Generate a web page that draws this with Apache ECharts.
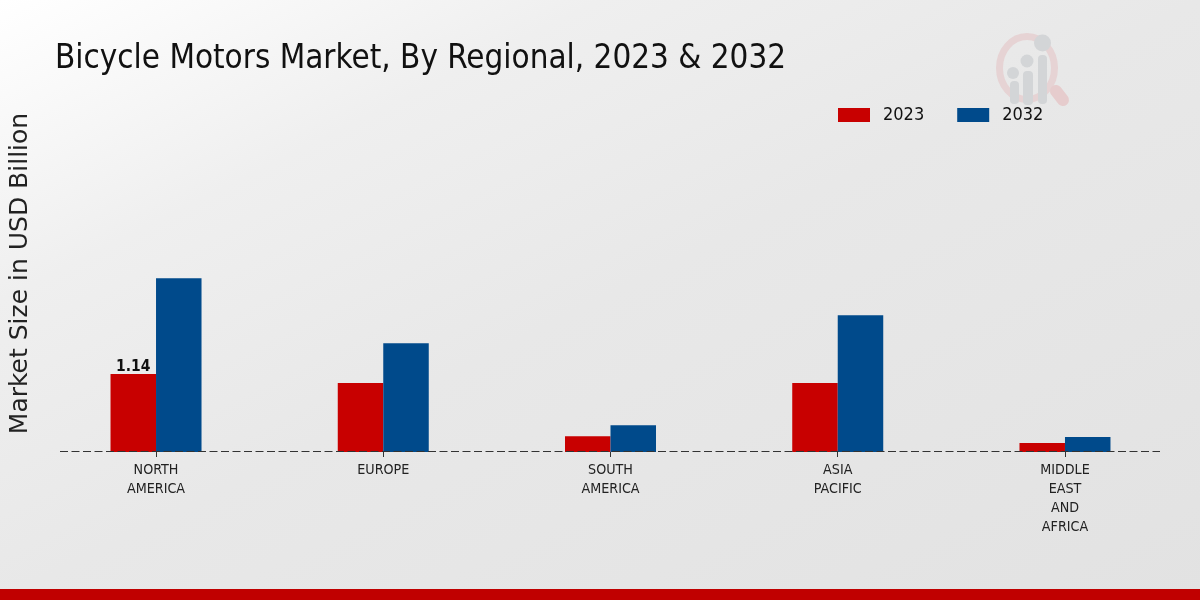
<!DOCTYPE html>
<html><head><meta charset="utf-8">
<style>html,body{margin:0;padding:0;background:#e6e6e6}#c{width:1200px;height:600px}</style>
<script src="https://cdn.jsdelivr.net/npm/echarts@6/dist/echarts.min.js"></script>
</head><body><div id="c"></div>
<script>
const titleText = 'Bicycle Motors Market, By Regional, 2023 & 2032';
const yAxisTitle = 'Market Size in USD Billion';
const categories = ['NORTH\nAMERICA','EUROPE','SOUTH\nAMERICA','ASIA\nPACIFIC','MIDDLE\nEAST\nAND\nAFRICA'];
const values2023 = [1.14,1.01,0.23,1.01,0.13];
const values2032 = [2.54,1.59,0.39,2.00,0.22];
const condensed = '"DejaVu Sans Condensed","DejaVu Sans"';
const chart = echarts.init(document.getElementById('c'),null,{renderer:'canvas'});
const ringC='#e6d3d4', barC='#d3d5d7';
chart.setOption({
  animation:false,
  backgroundColor:{type:'linear',global:true,x:0,y:0,x2:480,y2:960,colorStops:[{offset:0,color:'#ffffff'},{offset:0.08,color:'#fafafa'},{offset:0.25,color:'#efefef'},{offset:0.5,color:'#e8e8e8'},{offset:1,color:'#e2e2e2'}]},
  title:{text:titleText,left:50,top:38,textStyle:{fontFamily:condensed,fontSize:32.9,fontWeight:'normal',color:'#111'}},
  legend:{left:833,top:101,itemWidth:32,itemHeight:14,itemGap:33,icon:'rect',
    textStyle:{fontFamily:condensed,fontSize:18,color:'#111',padding:[0,0,0,8]},data:['2023','2032']},
  grid:{left:42.4,width:1136.2,top:95,bottom:148,containLabel:false,outerBoundsMode:'none'},
  xAxis:{type:'category',data:categories,
    axisLine:{show:false},
    axisTick:{show:true,alignWithLabel:true,length:5,lineStyle:{color:'#333'}},
    axisLabel:{fontFamily:condensed,fontSize:14.2,color:'#222',lineHeight:19,margin:9,interval:0}},
  yAxis:{type:'value',min:0,max:5.219,axisLabel:{show:false},axisTick:{show:false},axisLine:{show:false},splitLine:{show:false},
    name:yAxisTitle,nameLocation:'middle',nameGap:9,nameRotate:90,
    nameTextStyle:{fontFamily:'"DejaVu Sans"',fontSize:25,color:'#222'}},
  series:[
    {name:'2023',type:'bar',data:values2023.map((v,i)=>i===0?{value:v,label:{show:true}}:v),barWidth:45.5,barGap:'0%',
      itemStyle:{color:'#c80000'},
      label:{show:false,position:'top',distance:-1,formatter:'{c}',fontFamily:condensed,fontWeight:'bold',fontSize:15.5,color:'#111'}},
    {name:'2032',type:'bar',data:values2032,barWidth:45.5,itemStyle:{color:'#004a8b'}}
  ],
  graphic:[
    {type:'line',silent:true,z:5,shape:{x1:60,y1:451.5,x2:1160,y2:451.5},style:{stroke:'#333',lineWidth:1,lineDash:[8,3.5]}},
    {type:'rect',silent:true,z:5,shape:{x:0,y:589,width:1200,height:11},style:{fill:'#c00000'}},
    {type:'ellipse',silent:true,z:0,shape:{cx:1027,cy:68,rx:27.5,ry:31.5},style:{stroke:ringC,fill:null,lineWidth:7}},
    {type:'line',silent:true,z:0,shape:{x1:1056,y1:91,x2:1063,y2:100},style:{stroke:'#e6cccd',lineWidth:12,lineCap:'round'}},
    {type:'rect',silent:true,z:1,shape:{x:1010,y:81,width:9,height:23,r:4},style:{fill:barC}},
    {type:'rect',silent:true,z:1,shape:{x:1023,y:71,width:10,height:34,r:4},style:{fill:barC}},
    {type:'rect',silent:true,z:1,shape:{x:1038,y:55,width:9,height:49,r:4},style:{fill:barC}},
    {type:'circle',silent:true,z:1,shape:{cx:1013,cy:73,r:6},style:{fill:barC}},
    {type:'circle',silent:true,z:1,shape:{cx:1027,cy:61,r:6.5},style:{fill:barC}},
    {type:'circle',silent:true,z:1,shape:{cx:1042.5,cy:43,r:8.5},style:{fill:barC}}
  ]
});
</script></body></html>
